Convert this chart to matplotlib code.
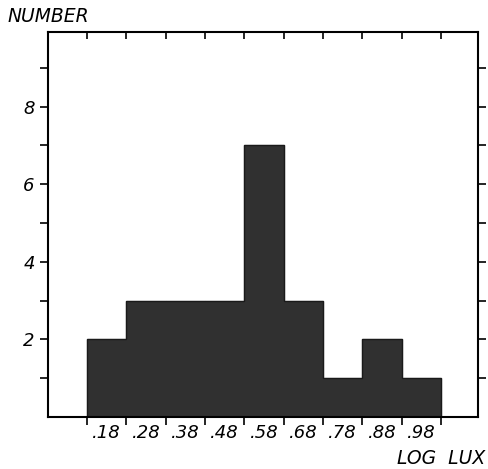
import matplotlib
matplotlib.use("Agg")
import matplotlib.pyplot as plt
import numpy as np

bin_centers = [0.18, 0.28, 0.38, 0.48, 0.58, 0.68, 0.78, 0.88, 0.98]
counts = [2, 3, 3, 3, 7, 3, 1, 2, 1]
x_labels = [".18", ".28", ".38", ".48", ".58", ".68", ".78", ".88", ".98"]
y_major = [2, 4, 6, 8]
y_minor = [1, 3, 5, 7, 9]

plt.rcParams['font.family'] = ['DejaVu Sans']
fig = plt.figure(figsize=(4.88, 4.69), dpi=100)
ax = fig.add_axes([48/488, 1 - 417/469, (478-48)/488, (417-32)/469])

width = 0.1
ax.bar(bin_centers, counts, width=width, color='#303030', edgecolor='#303030', linewidth=0.8)
# outline of the histogram (outer step only)
edges = [c - width/2 for c in bin_centers] + [bin_centers[-1] + width/2]
ax.stairs(counts, edges, color='#1a1a1a', linewidth=1.0)

ax.set_xlim(0.031, 1.124)
ax.set_ylim(0, 9.92)

ax.set_xticks(edges)
ax.set_xticklabels([])
ax.set_xticks(bin_centers, minor=True)
ax.set_xticklabels(x_labels, minor=True, style='italic', fontsize=13)
ax.tick_params(axis='x', which='minor', length=0, pad=5)
ax.tick_params(axis='x', which='major', direction='out', length=6, width=1.2, top=False)

ax.set_yticks(y_major)
ax.set_yticklabels([str(v) for v in y_major], style='italic', fontsize=13)
ax.set_yticks(y_minor, minor=True)
ax.tick_params(axis='y', which='both', direction='out', length=6, width=1.2, right=True)

# top inward ticks
secx = ax.secondary_xaxis('top')
secx.set_xticks(edges)
secx.set_xticklabels([])
secx.tick_params(direction='in', length=5, width=1.2)
secx.spines['top'].set_visible(False)

for s in ax.spines.values():
    s.set_linewidth(1.5)

fig.text(7/488, 1 - 17/469, "NUMBER", style='italic', fontsize=13.5, va='center', ha='left')
fig.text(485/488, 1 - 458/469, "LOG  LUX", style='italic', fontsize=13.5, va='center', ha='right')

fig.savefig("out.png", dpi=100)
